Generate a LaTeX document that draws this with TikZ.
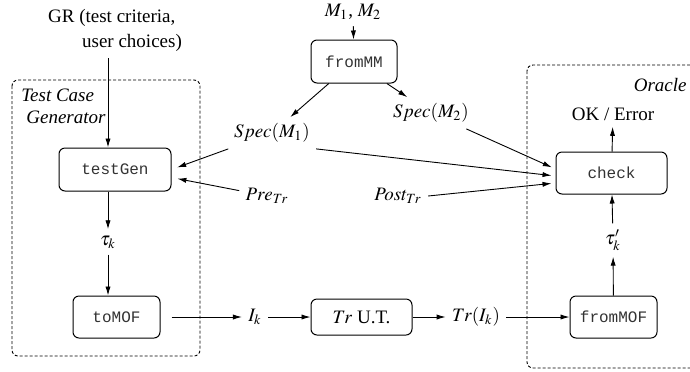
\documentclass[tikz,border=0pt]{standalone}
\usepackage{mathptmx}
\usepackage{fontspec}
\setmainfont{Liberation Serif}
\setmonofont{Liberation Mono}
\usetikzlibrary{arrows.meta}

\begin{document}
\begin{tikzpicture}[
    x=0.5pt, y=-0.5pt,
    every node/.style={font=\fontsize{9.5}{12.5}\selectfont, inner sep=3pt},
    box/.style={rectangle, draw, rounded corners=3pt, line width=0.5pt, align=center,
                inner sep=0pt, font=\fontsize{8}{10}\selectfont\ttfamily, text=black!80,
                minimum width=#1, minimum height=21pt},
    box/.default=43.5pt,
    grp/.style={draw, dash pattern=on 1.5pt off 1pt, rounded corners=3pt, line width=0.45pt},
    arr/.style={-{Latex[length=4.5pt, width=2.6pt]}, line width=0.45pt},
    lbl/.style={font=\fontsize{9.5}{11}\selectfont\itshape, align=left},
]
\useasboundingbox (0,0) rectangle (690,371);

% --- Test case generator column -------------------------------------
\node[align=left] (gr) at (115,30.5) {GR (test criteria,\\\hspace*{17pt}user choices)};
\node[box=56pt, minimum height=21.5pt] (testGen) at (115,169.5) {testGen};
\node (tauk)  at (108,242)   {$\tau_k$};
\node[box] (toMOF) at (116.5,317) {toMOF};

% --- Transformation under test (bottom row) -------------------------
\node (Ik) at (255,317) {$I_k$};
\node[box=50.5pt, minimum height=18pt, font=\fontsize{9.5}{11}\selectfont, text=black] (trUT) at (361.5,317) {$Tr$ U.T.};
\node (trIk) at (476,317) {$Tr(I_k)$};

% --- Oracle column ---------------------------------------------------
\node[box] (fromMOF) at (613.5,317) {fromMOF};
\node (tauk2) at (613,240) {$\tau'_k$};
\node[box=55.5pt] (check) at (611.5,173) {check};
\node (okerr) at (613,114) {OK / Error};

% --- Specifications from the metamodels -----------------------------
\node (m12) at (353,12) {$M_1$, $M_2$};
\node[box=43pt, minimum height=21.5pt] (fromMM) at (354,61.5) {fromMM};
\node (specA)  at (272,133) {$Spec(M_1)$};
\node (specB)  at (431,113) {$Spec(M_2)$};
\node (preTr)  at (267,196) {$Pre_{Tr}$};
\node (postTr) at (398,196) {$Post_{Tr}$};

% --- Dashed groups ----------------------------------------------------
\draw[grp] (12,80) rectangle (200,356);
\node[lbl, anchor=north west] (genlbl) at (15,83) {Test Case\\\hspace*{2.5pt}Generator};
\draw[grp] (527,65) rectangle (720,368);
\node[lbl, anchor=east] (oralbl) at (693,85) {Oracle};

% --- Main flow ---------------------------------------------------------
\draw[arr] (gr.south -| tauk) -- (testGen.north -| tauk);
\draw[arr] (testGen.south -| tauk) -- (tauk);
\draw[arr] (tauk) -- (toMOF.north -| tauk);
\draw[arr, shorten <=5.5pt] (toMOF) -- (Ik);
\draw[arr] (Ik) -- (trUT);
\draw[arr] (trUT) -- (trIk);
\draw[arr] (trIk) -- (fromMOF);
\draw[arr] (fromMOF) -- (tauk2);
\draw[arr] (tauk2) -- (check);
\draw[arr] (check) -- (okerr);

% --- Specs into generator and oracle ---------------------------------
\draw[arr] (m12) -- (fromMM);
\draw[arr] (fromMM) -- (specA);
\draw[arr] (fromMM) -- (specB);
\draw[arr, shorten >=3pt] (specA) -- (testGen.east);
\draw[arr, shorten >=3pt] (preTr) -- ([yshift=-4pt]testGen.east);
\draw[arr, shorten >=2pt] (specA.south east) -- ([yshift=-1.5pt]check.west);
\draw[arr, shorten >=2pt] (specB) -- ([yshift=2pt]check.west);
\draw[arr, shorten >=2pt] (postTr.east) -- ([yshift=-5pt]check.west);
\end{tikzpicture}
\end{document}
